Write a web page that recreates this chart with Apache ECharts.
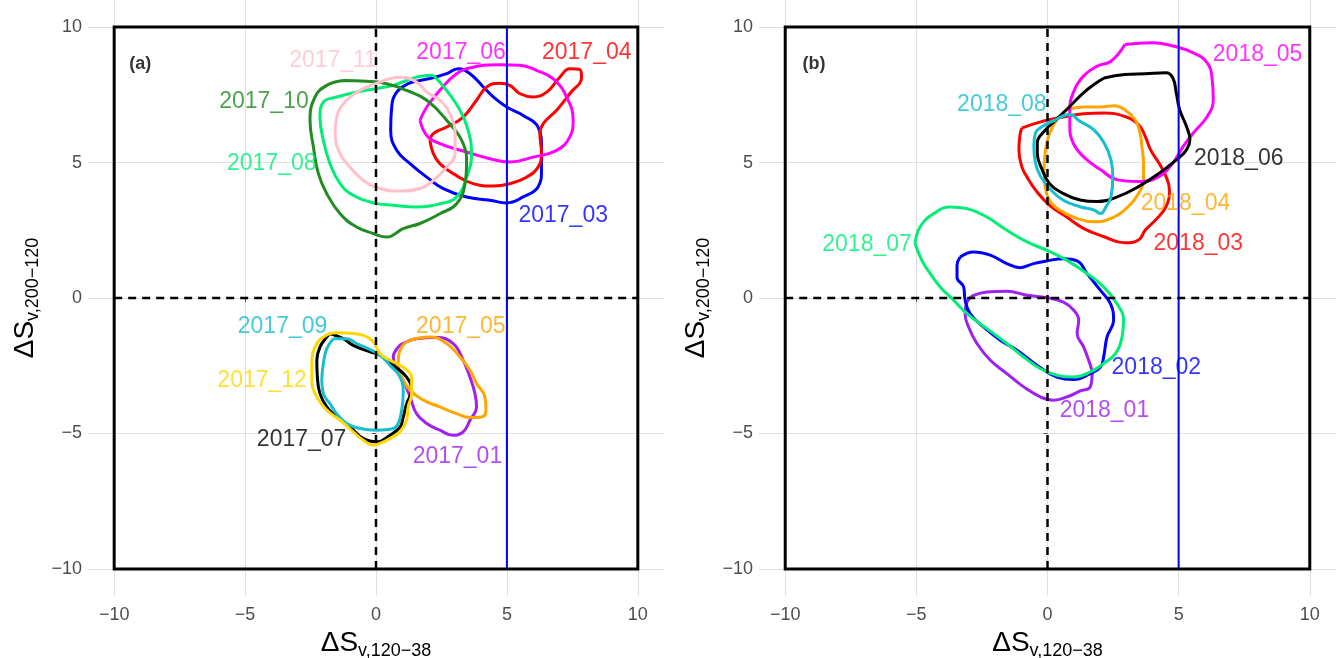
<!DOCTYPE html>
<html><head><meta charset="utf-8">
<script src="https://cdn.jsdelivr.net/npm/echarts@6.0.0/dist/echarts.min.js"></script>
<style>html,body{margin:0;padding:0;background:#fff}#c{width:1338px;height:658px}</style>
</head><body><div id="c"></div>
<script>
// ---- axis / reference values ----
const tickValues = [-10, -5, 0, 5, 10];
const axisMin = -11, axisMax = 11;
const boxLo = -10, boxHi = 10;
const refX = 5;

// ---- palette order (by month position in each panel) ----
const palette = ['#A020F0', '#0000FF', '#FF0000', '#FFA500', '#FF00FF', '#000000', '#00EE76', '#17BECF', '#228B22', '#FFC0CB', '#FFD700'];

// ---- panel (a) contours: [x, y] ----
const namesA = ['2017_01', '2017_03', '2017_04', '2017_05', '2017_06', '2017_07', '2017_08', '2017_09', '2017_10', '2017_11', '2017_12'];
const c2017_01 = [[1.04,-1.68],[1.55,-1.50],[2.32,-1.46],[2.95,-1.68],[3.33,-2.30],[3.59,-2.92],[3.78,-3.53],[3.84,-4.02],[3.59,-4.51],[3.33,-4.94],[2.95,-5.07],[2.44,-4.88],[1.94,-4.63],[1.55,-4.27],[1.30,-3.65],[1.04,-3.04],[0.79,-2.67],[0.66,-2.18],[0.85,-1.81]];
const c2017_03 = [[2.06,8.10],[2.70,8.28],[3.14,8.46],[3.59,8.28],[4.10,7.79],[4.48,7.42],[4.99,7.05],[5.62,6.74],[6.19,6.31],[6.32,5.57],[6.32,4.71],[6.19,4.10],[5.62,3.73],[4.99,3.51],[4.35,3.61],[3.46,3.73],[2.57,4.04],[1.94,4.46],[1.30,4.96],[0.79,5.45],[0.56,6.19],[0.60,7.05],[0.79,7.60],[1.23,7.91],[1.68,8.03]];
const c2017_04 = [[2.06,5.82],[2.19,6.07],[2.70,6.31],[3.33,6.68],[3.84,7.30],[4.23,7.79],[4.73,7.93],[5.11,7.85],[5.50,7.54],[6.00,7.42],[6.52,7.60],[7.02,8.15],[7.40,8.46],[7.79,8.43],[7.85,8.15],[7.40,7.54],[6.90,6.93],[6.39,6.44],[6.26,6.07],[6.32,5.33],[6.19,4.83],[5.75,4.46],[5.11,4.22],[4.48,4.13],[3.71,4.22],[2.95,4.59],[2.44,4.96],[2.19,5.33]];
const c2017_05 = [[1.30,-1.56],[2.06,-1.44],[2.70,-1.68],[3.21,-2.18],[3.59,-2.67],[3.84,-3.16],[4.16,-3.65],[4.20,-4.14],[4.03,-4.39],[3.59,-4.41],[3.08,-4.27],[2.44,-4.02],[1.81,-3.77],[1.30,-3.41],[0.98,-2.92],[0.85,-2.30],[0.98,-1.81]];
const c2017_06 = [[1.68,6.56],[1.94,7.05],[2.44,7.67],[3.08,8.28],[3.71,8.52],[4.73,8.61],[5.50,8.59],[6.13,8.40],[6.77,8.09],[7.28,7.42],[7.53,6.56],[7.40,5.94],[6.90,5.45],[6.00,5.20],[5.11,5.02],[4.35,5.14],[3.46,5.39],[2.44,5.70],[1.94,6.00]];
const c2017_07 = [[-1.76,-1.31],[-1.25,-1.50],[-0.87,-1.75],[-0.23,-1.99],[0.15,-2.11],[0.66,-2.48],[1.17,-2.92],[1.36,-3.41],[1.17,-3.90],[1.04,-4.39],[0.92,-4.76],[0.53,-5.07],[0.03,-5.31],[-0.48,-5.19],[-0.99,-4.76],[-1.50,-4.39],[-1.88,-4.02],[-2.14,-3.53],[-2.24,-2.92],[-2.26,-2.30],[-2.14,-1.81],[-1.88,-1.44]];
const c2017_08 = [[2.19,8.22],[2.70,7.66],[3.21,6.93],[3.52,6.19],[3.65,5.33],[3.46,4.46],[3.08,3.73],[2.44,3.48],[1.55,3.36],[0.66,3.42],[-0.10,3.51],[-0.87,3.79],[-1.37,4.22],[-1.76,4.96],[-2.01,5.82],[-2.14,6.68],[-2.01,7.23],[-1.50,7.42],[-0.74,7.60],[0.03,7.73],[0.66,7.85],[1.17,8.03],[1.68,8.18]];
const c2017_09 = [[-1.63,-1.50],[-1.12,-1.50],[-0.74,-1.68],[-0.23,-1.90],[0.15,-2.11],[0.53,-2.48],[0.92,-2.92],[1.04,-3.53],[0.98,-4.14],[0.85,-4.63],[0.66,-4.82],[0.03,-4.88],[-0.61,-4.82],[-1.12,-4.63],[-1.50,-4.27],[-1.76,-3.90],[-2.01,-3.53],[-2.07,-3.04],[-2.01,-2.42],[-1.88,-1.87]];
const c2017_10 = [[-1.25,8.03],[-0.36,8.00],[0.41,7.91],[1.17,7.66],[1.94,7.30],[2.70,6.56],[3.33,5.70],[3.46,4.96],[3.40,4.22],[3.08,3.48],[2.44,3.11],[1.68,2.75],[1.04,2.56],[0.41,2.25],[-0.10,2.38],[-0.74,2.62],[-1.37,3.11],[-1.88,3.85],[-2.20,4.59],[-2.39,5.57],[-2.52,6.56],[-2.33,7.42],[-1.88,7.85]];
const c2017_11 = [[0.15,7.97],[0.92,8.15],[1.55,7.97],[1.94,7.60],[2.44,7.30],[2.82,6.80],[3.02,6.07],[3.02,5.33],[2.70,4.83],[2.19,4.34],[1.68,4.04],[0.92,3.95],[0.15,4.04],[-0.48,4.34],[-0.99,4.83],[-1.37,5.33],[-1.56,6.07],[-1.50,6.68],[-1.12,7.30],[-0.48,7.73]];
const c2017_12 = [[-1.12,-1.29],[-0.48,-1.38],[-0.10,-1.62],[0.15,-2.05],[0.53,-2.30],[1.04,-2.55],[1.36,-2.97],[1.36,-3.53],[1.23,-4.02],[1.17,-4.51],[0.92,-4.94],[0.53,-5.19],[0.15,-5.37],[-0.10,-5.44],[-0.48,-5.25],[-0.87,-4.94],[-1.37,-4.51],[-1.88,-4.14],[-2.26,-3.65],[-2.45,-3.04],[-2.45,-2.30],[-2.33,-1.81],[-2.01,-1.44],[-1.50,-1.28]];
const contoursA = [c2017_01, c2017_03, c2017_04, c2017_05, c2017_06, c2017_07, c2017_08, c2017_09, c2017_10, c2017_11, c2017_12];
const labelXA = [3.11, 7.15, 8.05, 3.24, 3.25, -2.84, -3.98, -3.57, -4.28, -1.64, -4.35];
const labelYA = [-5.84, 3.05, 9.05, -1.07, 9.05, -5.22, 4.96, -1.07, 7.24, 8.77, -3.04];

// ---- panel (b) contours ----
const namesB = ['2018_01', '2018_02', '2018_03', '2018_04', '2018_05', '2018_06', '2018_07', '2018_08'];
const c2018_01 = [[-2.82,0.10],[-2.31,0.22],[-1.55,0.25],[-0.78,0.10],[-0.02,0.01],[0.61,-0.15],[1.00,-0.45],[1.19,-0.82],[1.13,-1.31],[1.38,-1.81],[1.57,-2.30],[1.70,-2.79],[1.63,-3.28],[1.25,-3.43],[0.74,-3.65],[0.23,-3.77],[-0.27,-3.65],[-0.91,-3.28],[-1.55,-2.79],[-2.18,-2.30],[-2.69,-1.68],[-3.01,-1.07],[-3.14,-0.58],[-3.07,-0.15]];
const c2018_02 = [[-3.33,1.51],[-2.82,1.70],[-2.18,1.58],[-1.55,1.27],[-1.04,1.12],[-0.53,1.27],[-0.02,1.37],[0.61,1.45],[1.13,1.37],[1.51,0.90],[2.02,0.28],[2.40,-0.21],[2.52,-0.82],[2.27,-1.44],[2.14,-2.18],[2.02,-2.55],[1.63,-2.79],[1.00,-3.01],[0.36,-2.92],[-0.40,-2.48],[-1.16,-1.93],[-1.80,-1.56],[-2.44,-1.07],[-2.95,-0.58],[-3.14,-0.08],[-3.20,0.41],[-3.45,0.77],[-3.45,1.21]];
const c2018_03 = [[-0.98,6.27],[-0.20,6.52],[0.72,6.70],[1.37,6.80],[2.16,6.83],[2.95,6.70],[3.47,6.40],[3.73,5.96],[3.93,5.47],[4.25,4.98],[4.52,4.48],[4.65,3.99],[4.52,3.37],[4.12,2.88],[3.73,2.51],[3.47,2.14],[2.95,2.04],[2.16,2.26],[1.37,2.57],[0.72,3.00],[0.07,3.43],[-0.46,3.99],[-0.79,4.48],[-0.98,4.85],[-1.09,5.47],[-1.05,6.02]];
const c2018_04 = [[0.72,6.95],[1.37,7.05],[2.03,7.05],[2.55,7.10],[2.95,6.95],[3.34,6.58],[3.53,6.09],[3.60,5.59],[3.66,4.98],[3.66,4.36],[3.47,3.86],[3.08,3.37],[2.42,2.94],[1.77,2.81],[1.11,2.94],[0.46,3.25],[0.07,3.62],[-0.09,4.11],[-0.13,4.73],[-0.09,5.35],[0.00,5.84],[0.20,6.33],[0.46,6.70]];
const c2018_05 = [[2.95,9.36],[3.99,9.42],[4.78,9.30],[5.56,9.05],[6.09,8.68],[6.28,8.06],[6.32,7.32],[6.09,6.70],[5.56,6.09],[5.17,5.59],[4.78,4.98],[4.25,4.48],[3.47,4.30],[2.68,4.36],[2.03,4.73],[1.37,5.22],[0.98,5.72],[0.85,6.33],[0.85,6.95],[0.98,7.57],[1.37,8.19],[1.90,8.56],[2.42,8.74]];
const c2018_06 = [[2.16,8.12],[2.95,8.25],[3.73,8.28],[4.52,8.31],[4.78,8.12],[4.91,7.57],[5.04,6.95],[5.30,6.33],[5.43,5.84],[5.30,5.47],[4.91,5.10],[4.25,4.60],[3.47,4.11],[2.68,3.74],[1.90,3.56],[1.24,3.62],[0.46,3.93],[0.07,4.23],[-0.20,4.73],[-0.39,5.35],[-0.39,5.72],[-0.07,6.21],[0.33,6.58],[0.85,7.07],[1.37,7.57],[1.77,7.88]];
const c2018_07 = [[-5.05,2.01],[-4.86,2.62],[-4.35,3.11],[-3.71,3.36],[-3.07,3.30],[-2.31,2.99],[-1.55,2.50],[-0.78,2.07],[-0.02,1.76],[0.74,1.39],[1.51,0.90],[2.14,0.41],[2.65,-0.21],[2.90,-0.82],[2.84,-1.44],[2.59,-2.05],[2.14,-2.42],[1.63,-2.73],[1.00,-2.92],[0.36,-2.85],[-0.27,-2.61],[-0.91,-2.18],[-1.55,-1.68],[-2.31,-1.13],[-3.07,-0.58],[-3.58,-0.08],[-4.09,0.41],[-4.47,0.90],[-4.79,1.39]];
const c2018_08 = [[0.33,6.58],[0.85,6.77],[1.24,6.52],[1.77,6.21],[2.16,5.72],[2.42,5.10],[2.49,4.48],[2.42,3.74],[2.23,3.37],[2.03,3.12],[1.77,3.25],[1.24,3.37],[0.59,3.62],[0.07,4.05],[-0.26,4.48],[-0.46,4.98],[-0.52,5.59],[-0.46,6.09],[-0.20,6.33]];
const contoursB = [c2018_01, c2018_02, c2018_03, c2018_04, c2018_05, c2018_06, c2018_07, c2018_08];
const labelXB = [2.17, 4.15, 5.75, 5.26, 8.01, 7.29, -6.88, -1.74];
const labelYB = [-4.15, -2.56, 2.02, 3.47, 8.99, 5.16, 1.97, 7.14];

const panelTags = ['(a)', '(b)'];
const panelTagX = [-9.0, -8.9];
const panelTagY = [8.63, 8.63];

// ---- build chart ----
const FONT = "'Liberation Sans', Arial, Helvetica, sans-serif";
const chart = echarts.init(document.getElementById('c'), null, {renderer: 'canvas'});

const titleRich = {
  d: {fontSize: 28, lineHeight: 34, color: '#000', fontFamily: FONT, verticalAlign: 'middle'},
  s: {fontSize: 18, lineHeight: 24, color: '#000', fontFamily: FONT, verticalAlign: 'bottom'}
};
function fmtTick(v) { return String(v).replace('-', '\u2212'); }
function mkX(gi) {
  return {
    gridIndex: gi, type: 'value', min: axisMin, max: axisMax,
    axisLine: {show: false},
    axisTick: {show: true, length: 4, customValues: tickValues, lineStyle: {color: '#555', width: 1}},
    axisLabel: {customValues: tickValues, color: '#4D4D4D', fontSize: 18, fontFamily: FONT, margin: 10, formatter: fmtTick},
    splitLine: {show: true, lineStyle: {color: '#E0E0E0', width: 1}},
    name: '{d|\u0394S}{s|v,120\u221238}', nameLocation: 'middle', nameGap: 20,
    nameTextStyle: {rich: titleRich}
  };
}
function mkY(gi) {
  return {
    gridIndex: gi, type: 'value', min: axisMin, max: axisMax,
    axisLine: {show: false},
    axisTick: {show: true, length: 4, customValues: tickValues, lineStyle: {color: '#555', width: 1}},
    axisLabel: {customValues: tickValues, color: '#4D4D4D', fontSize: 18, fontFamily: FONT, margin: 6, formatter: fmtTick},
    splitLine: {show: true, lineStyle: {color: '#E0E0E0', width: 1}},
    name: '{d|\u0394S}{s|v,200\u2212120}', nameLocation: 'middle', nameGap: 46, nameRotate: 90,
    nameTextStyle: {rich: titleRich}
  };
}

const series = [];
function addPanel(gi, names, contours, lx, ly) {
  contours.forEach((pts, i) => {
    series.push({
      type: 'line', name: names[i], xAxisIndex: gi, yAxisIndex: gi,
      data: pts.concat([pts[0]]), smooth: 0.45, showSymbol: false, symbol: 'none',
      lineStyle: {color: palette[i], width: 3}, silent: true, z: 2
    });
  });
  series.push({type: 'line', xAxisIndex: gi, yAxisIndex: gi, showSymbol: false, symbol: 'none', silent: true, z: 3,
    data: [[refX, boxLo], [refX, boxHi]], lineStyle: {color: '#0000FF', width: 2}});
  series.push({type: 'line', xAxisIndex: gi, yAxisIndex: gi, showSymbol: false, symbol: 'none', silent: true, z: 3,
    data: [[0, boxLo], [0, boxHi]], lineStyle: {color: '#000', width: 2.5, type: [8, 6]}});
  series.push({type: 'line', xAxisIndex: gi, yAxisIndex: gi, showSymbol: false, symbol: 'none', silent: true, z: 3,
    data: [[boxLo, 0], [boxHi, 0]], lineStyle: {color: '#000', width: 2.5, type: [8, 6]}});
  series.push({type: 'line', xAxisIndex: gi, yAxisIndex: gi, showSymbol: false, symbol: 'none', silent: true, z: 4,
    data: [[boxLo, boxLo], [boxHi, boxLo], [boxHi, boxHi], [boxLo, boxHi], [boxLo, boxLo]],
    lineStyle: {color: '#000', width: 3, join: 'miter', cap: 'square'}});
  series.push({
    type: 'scatter', xAxisIndex: gi, yAxisIndex: gi, symbolSize: 1, silent: true, z: 5,
    itemStyle: {color: 'rgba(0,0,0,0)'},
    data: names.map((n, i) => ({value: [lx[i], ly[i]], name: n, label: {color: palette[i]}})),
    label: {show: true, position: 'inside', formatter: '{b}', fontSize: 23, fontFamily: FONT}
  });
  series.push({
    type: 'scatter', xAxisIndex: gi, yAxisIndex: gi, symbolSize: 1, silent: true, z: 5,
    itemStyle: {color: 'rgba(0,0,0,0)'},
    data: [{value: [panelTagX[gi], panelTagY[gi]], name: panelTags[gi]}],
    label: {show: true, position: 'inside', formatter: '{b}', fontSize: 18, fontWeight: 'bold', color: '#000', fontFamily: FONT}
  });
}
addPanel(0, namesA, contoursA, labelXA, labelYA);
addPanel(1, namesB, contoursB, labelXB, labelYB);

chart.setOption({
  animation: false,
  backgroundColor: '#fff',
  textStyle: {fontFamily: FONT},
  grid: [
    {left: 88, top: 0, width: 576, height: 596, containLabel: false, outerBoundsMode: 'none'},
    {left: 759, top: 0, width: 577, height: 596, containLabel: false, outerBoundsMode: 'none'}
  ],
  xAxis: [mkX(0), mkX(1)],
  yAxis: [mkY(0), mkY(1)],
  series: series
});
</script>
</body></html>
